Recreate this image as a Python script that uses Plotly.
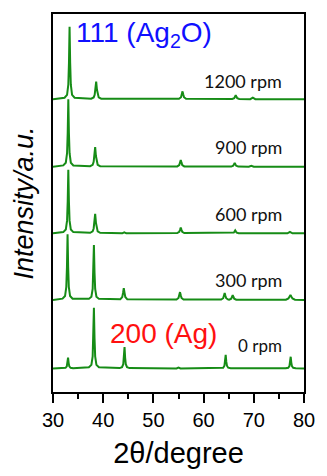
import plotly.graph_objects as go

# Series labels and vertical offsets (stacked patterns)
labels = ["0 rpm", "300 rpm", "600 rpm", "900 rpm", "1200 rpm"]
offsets = [24, 94, 162, 230, 299]

# 2theta / intensity values (intensity above each baseline)
x_0 = [30, 32.0, 32.5, 32.75, 32.88, 33.0, 33.12, 33.25, 33.5, 34.0,
       37.15, 37.65, 37.9, 38.03, 38.15, 38.27, 38.4, 38.65, 39.15,
       43.25, 43.75, 44.0, 44.13, 44.25, 44.37, 44.5, 44.75, 45.25,
       54.6, 55.0, 55.4,
       63.4, 63.9, 64.15, 64.28, 64.4, 64.52, 64.65, 64.9, 65.4,
       76.35, 76.85, 77.1, 77.23, 77.35, 77.47, 77.6, 77.85, 78.35, 80]
y_0 = [0, 0.2, 0.7, 2.2, 5.5, 11, 5.5, 2.2, 0.7, 0.2,
       1.2, 3.7, 12.4, 31, 62, 31, 12.4, 3.7, 1.2,
       0.4, 1.3, 4.4, 11, 22, 11, 4.4, 1.3, 0.4,
       0, 1, 0,
       0.3, 0.8, 2.8, 7, 14, 7, 2.8, 0.8, 0.3,
       0.2, 0.7, 2.4, 6, 12, 6, 2.4, 0.7, 0.2, 0]

x_300 = [30, 31.9, 32.4, 32.65, 32.78, 32.9, 33.02, 33.15, 33.4, 33.9,
         37.15, 37.65, 37.9, 38.03, 38.15, 38.27, 38.4, 38.65, 39.15,
         43.4, 43.8, 43.95, 44.1, 44.25, 44.4, 44.8,
         54.6, 55.0, 55.15, 55.3, 55.45, 55.6, 56.0,
         63.5, 63.9, 64.05, 64.2, 64.35, 64.5, 64.9,
         65.1, 65.5, 65.65, 65.8, 65.95, 66.1, 66.5,
         76.4, 76.9, 77.1, 77.3, 77.5, 77.7, 78.2, 80]
y_300 = [0, 1.3, 4, 13.4, 33.5, 67, 33.5, 13.4, 4, 1.3,
         1.1, 3.4, 11.2, 28, 56, 28, 11.2, 3.4, 1.1,
         0.6, 3, 7.2, 12, 7.2, 3, 0.6,
         0.4, 2, 4.8, 8, 4.8, 2, 0.4,
         0.35, 1.75, 4.2, 7, 4.2, 1.75, 0.35,
         0.25, 1.25, 3, 5, 3, 1.25, 0.25,
         0.25, 1.5, 3.2, 5, 3.2, 1.5, 0.25, 0]

x_600 = [30, 32.05, 32.55, 32.8, 32.93, 33.05, 33.17, 33.3, 33.55, 34.05,
         37.4, 37.9, 38.1, 38.25, 38.4, 38.55, 38.7, 38.9, 39.4,
         43.8, 44.2, 44.6,
         54.75, 55.15, 55.3, 55.45, 55.6, 55.75, 56.15,
         65.6, 66.0, 66.15, 66.3, 66.45, 66.6, 67.0,
         76.7, 77.2, 77.7, 80]
y_600 = [0, 1.3, 3.9, 13, 32.5, 65, 32.5, 13, 3.9, 1.3,
         0.6, 2, 5, 11, 20, 11, 5, 2, 0.6,
         0, 1, 0,
         0.3, 1.5, 3.6, 6, 3.6, 1.5, 0.3,
         0.15, 0.75, 1.8, 3, 1.8, 0.75, 0.15,
         0, 1.5, 0, 0]

x_900 = [30, 32.05, 32.55, 32.8, 32.93, 33.05, 33.17, 33.3, 33.55, 34.05,
         37.4, 37.9, 38.1, 38.25, 38.4, 38.55, 38.7, 38.9, 39.4,
         54.75, 55.15, 55.3, 55.45, 55.6, 55.75, 56.15,
         65.5, 65.9, 66.05, 66.2, 66.35, 66.5, 66.9,
         69.0, 69.5, 70.0, 80]
y_900 = [0, 1.4, 4.1, 13.8, 34.5, 69, 34.5, 13.8, 4.1, 1.4,
         0.6, 2, 5, 11, 20, 11, 5, 2, 0.6,
         0.35, 1.75, 4.2, 7, 4.2, 1.75, 0.35,
         0.2, 1, 2.4, 4, 2.4, 1, 0.2,
         0, 1, 0, 0]

x_1200 = [30, 32.3, 32.8, 33.05, 33.18, 33.3, 33.42, 33.55, 33.8, 34.3,
          37.6, 38.1, 38.3, 38.45, 38.6, 38.75, 38.9, 39.1, 39.6,
          55.1, 55.5, 55.65, 55.8, 55.95, 56.1, 56.5,
          65.7, 66.1, 66.25, 66.4, 66.55, 66.7, 67.1,
          69.3, 69.8, 70.3, 80]
y_1200 = [0, 1.5, 4.4, 14.8, 37, 74, 37, 14.8, 4.4, 1.5,
          0.5, 1.8, 4.5, 9.9, 18, 9.9, 4.5, 1.8, 0.5,
          0.4, 2, 4.8, 8, 4.8, 2, 0.4,
          0.2, 1, 2.4, 4, 2.4, 1, 0.2,
          0, 1.5, 0, 0]

xs = [x_0, x_300, x_600, x_900, x_1200]
ys = [y_0, y_300, y_600, y_900, y_1200]
label_y = [47, 114, 182, 250, 318]
label_x = 76.0

fig = go.Figure()
for xv, yv, off, name in zip(xs, ys, offsets, labels):
    fig.add_trace(go.Scatter(
        x=xv, y=[v + off for v in yv], mode="lines", name=name,
        line=dict(color="#168c16", width=2), showlegend=False))

for name, ly in zip(labels, label_y):
    fig.add_annotation(x=label_x, y=ly, text=name, showarrow=False,
                       xanchor="right", yanchor="middle",
                       font=dict(family="Lato", size=18 if name != "0 rpm" else 17,
                                 color="#111111"))

fig.add_annotation(x=34.2, y=365, text="111 (Ag<sub>2</sub>O)", showarrow=False,
                   xanchor="left", yanchor="middle",
                   font=dict(family="Liberation Sans", size=28, color="#1010ff"))
fig.add_annotation(x=41.0, y=60, text="200 (Ag)", showarrow=False,
                   xanchor="left", yanchor="middle",
                   font=dict(family="Liberation Sans", size=28, color="#ff1010"))

fig.update_layout(
    width=327, height=476,
    margin=dict(l=53, r=12, t=14, b=76),
    plot_bgcolor="white", paper_bgcolor="white",
    font=dict(family="Liberation Sans", color="black"),
)
fig.update_xaxes(
    range=[30, 80], dtick=10, tick0=30, ticks="outside", ticklen=9, tickwidth=1.5,
    tickcolor="black", showline=True, linecolor="black", linewidth=1.5, mirror=True,
    showgrid=False, zeroline=False, tickfont=dict(size=20, family="Liberation Sans"),
    minor=dict(dtick=5, tick0=30, ticks="outside", ticklen=5, tickwidth=1.5, tickcolor="black"),
    title=dict(text="2θ/degree", font=dict(size=29, family="Liberation Sans"),
               standoff=13),
)
fig.update_yaxes(
    range=[0, 386], showticklabels=False, ticks="", showline=True, linecolor="black",
    linewidth=1.5, mirror=True, showgrid=False, zeroline=False,
    title=dict(text="Intensity/a.u.", font=dict(size=27, family="Liberation Sans", style="italic"),
               standoff=10),
)

fig.write_html("out.html")
